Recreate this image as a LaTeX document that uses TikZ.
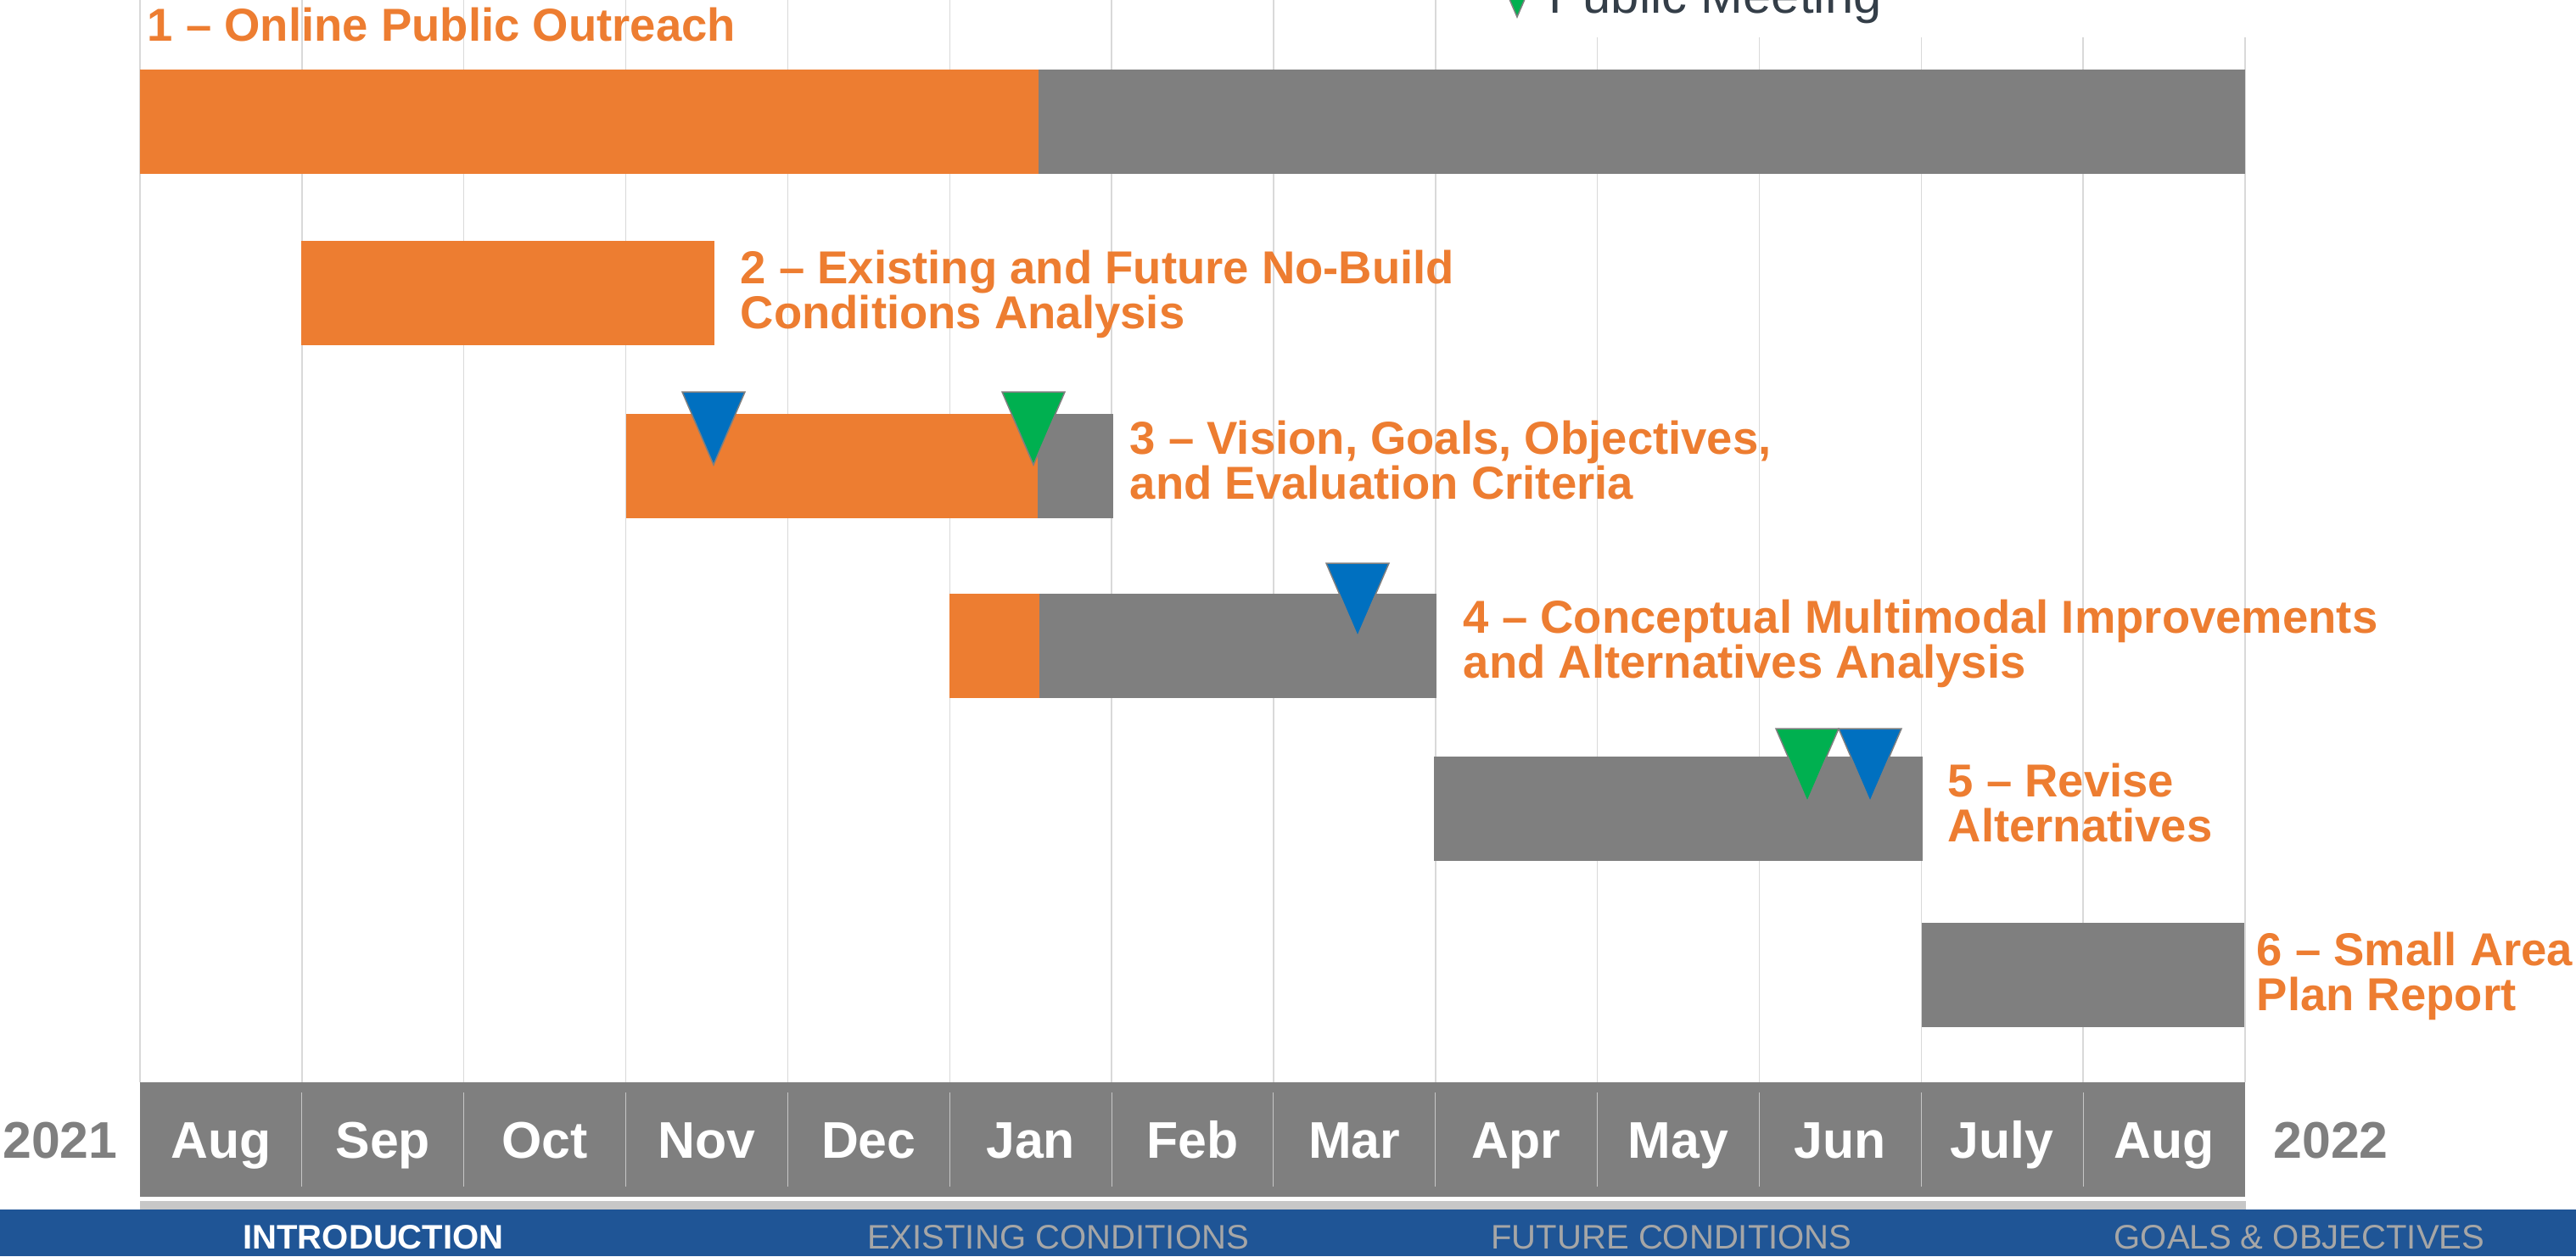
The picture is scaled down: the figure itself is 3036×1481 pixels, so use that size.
\documentclass[tikz,border=0pt]{standalone}
\usepackage{fontspec}
\setmainfont{Liberation Sans}
\definecolor{taskorange}{HTML}{ED7D31}
\definecolor{taskgray}{HTML}{7F7F7F}
\definecolor{gridgray}{HTML}{D9D9D9}
\definecolor{meetgreen}{HTML}{00B050}
\definecolor{meetblue}{HTML}{0070C0}
\definecolor{bandblue}{HTML}{1F5596}
\definecolor{tabgray}{HTML}{A6A6A6}
\definecolor{legendtext}{HTML}{343E48}

\tikzset{
  task/.style={font=\bfseries\fontsize{15.5}{14.9}\selectfont, text=taskorange, align=left, anchor=base west, inner sep=0pt},
  month/.style={font=\bfseries\fontsize{17.3}{18}\selectfont, text=white, anchor=base, inner sep=0pt},
  year/.style={month, text=taskgray},
  tab/.style={font=\fontsize{11.4}{12}\selectfont, text=tabgray, anchor=base, inner sep=0pt},
  meet/.style={draw=taskgray, line width=.15mm, line join=miter}
}
% milestone marker: colour, centre x, top y
\newcommand{\meetmark}[3]{\filldraw[meet, fill=#1] (#2-37,#3) -- (#2+37,#3) -- (#2,#3+86) -- cycle;}

\begin{document}
\begin{tikzpicture}[x = .1mm, y = -.1mm]
\useasboundingbox (0,0) rectangle (3036,1481);
\clip (0,0) rectangle (3036,1481);
% Month grid
\foreach \i in {0,...,13}
  \draw[gridgray, line width=.15mm] (165+190.85*\i,0) -- (165+190.85*\i,1276);
\fill[white] (1700,0) rectangle (2700,44);
% Legend
\meetmark{meetgreen}{1788}{-66}
\node[font=\fontsize{17}{18}\selectfont, text=legendtext, anchor=base west, inner sep=0pt] (legend) at (1825,15) {Public Meeting};
% Task bars
\fill[taskorange] (165,82) rectangle (1224,205);
\fill[taskgray] (1224,82) rectangle (2646,205);
\fill[taskorange] (355,284) rectangle (842,407);
\fill[taskorange] (738,488) rectangle (1223,611);
\fill[taskgray] (1223,488) rectangle (1312,611);
\fill[taskorange] (1119,700) rectangle (1225,823);
\fill[taskgray] (1225,700) rectangle (1693,823);
\fill[taskgray] (1690,892) rectangle (2266,1015);
\fill[taskgray] (2265,1088) rectangle (2645,1211);
% Meetings
\meetmark{meetblue}{841}{462}
\meetmark{meetgreen}{1218}{462}
\meetmark{meetblue}{1600}{664}
\meetmark{meetgreen}{2130}{859}
\meetmark{meetblue}{2204}{859}
% Task labels (placed at the baseline of their last line)
\node[task] (t1) at (173,48) {1 -- Online Public Outreach};
\node[task] (t2) at (872,387) {2 -- Existing and Future No-Build\\Conditions Analysis};
\node[task] (t3) at (1331,588) {3 -- Vision, Goals, Objectives,\\and Evaluation Criteria};
\node[task] (t4) at (1724,799) {4 -- Conceptual Multimodal Improvements\\and Alternatives Analysis};
\node[task] (t5) at (2295,992) {5 -- Revise\\Alternatives};
\node[task] (t6) at (2659,1191) {6 -- Small Area\\Plan Report};
% Timeline
\fill[taskgray] (165,1276) rectangle (2646,1411);
\foreach \i in {1,...,12}
  \draw[gray!45, line width=.1mm] (165+190.85*\i,1288) -- (165+190.85*\i,1399);
\fill[black!22] (165,1416) rectangle (2647,1426);
\node[year] (y21) at (71,1365) {2021};
\node[month] (m1) at (260.4,1365) {Aug};
\node[month] (m2) at (451.3,1365) {Sep};
\node[month] (m3) at (642.1,1365) {Oct};
\node[month] (m4) at (833,1365) {Nov};
\node[month] (m5) at (1023.8,1365) {Dec};
\node[month] (m6) at (1214.7,1365) {Jan};
\node[month] (m7) at (1405.5,1365) {Feb};
\node[month] (m8) at (1596.4,1365) {Mar};
\node[month] (m9) at (1787.2,1365) {Apr};
\node[month] (m10) at (1978.1,1365) {May};
\node[month] (m11) at (2168.9,1365) {Jun};
\node[month] (m12) at (2359.8,1365) {July};
\node[month] (m13) at (2550.6,1365) {Aug};
\node[year] (y22) at (2747,1365) {2022};
% Section band
\fill[bandblue] (0,1426) rectangle (3036,1481);
\node[tab, font=\bfseries\fontsize{11.4}{12}\selectfont, text=white] (s1) at (440,1472) {INTRODUCTION};
\node[tab] (s2) at (1247,1472) {EXISTING CONDITIONS};
\node[tab] (s3) at (1970,1472) {FUTURE CONDITIONS};
\node[tab] (s4) at (2710,1472) {GOALS \& OBJECTIVES};
\end{tikzpicture}
\end{document}
